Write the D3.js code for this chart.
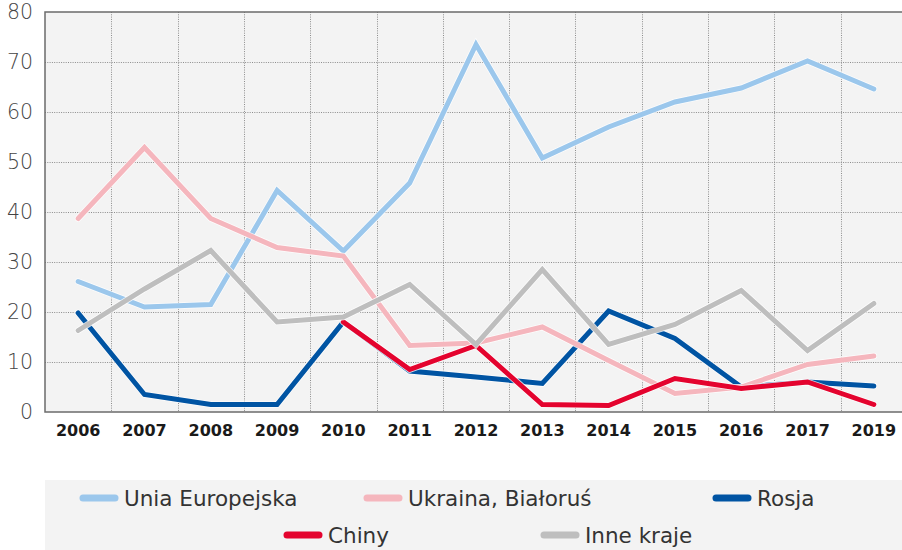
<!DOCTYPE html>
<html>
<head>
<meta charset="utf-8">
<script src="https://cdn.jsdelivr.net/npm/d3@7"></script>
<style>
  body { margin: 0; background: #fff; }
  svg { display: block; font-family: "DejaVu Sans", sans-serif; }
</style>
</head>
<body>
<div class="chart_container"></div>
<script>
var years = ["2006","2007","2008","2009","2010","2011","2012","2013","2014","2015","2016","2017","2019"];
var yTicks = [0, 10, 20, 30, 40, 50, 60, 70, 80];

var unia    = [26.1, 21.0, 21.5, 44.3, 32.2, 45.8, 73.5, 50.8, 57.0, 62.0, 64.8, 70.2, 64.6];
var ukraina = [38.7, 52.9, 38.7, 32.9, 31.2, 13.3, 13.8, 17.0, 10.3, 3.7, 5.0, 9.5, 11.2];
var rosja   = [19.8, 3.5, 1.5, 1.5, 18.0, 8.2, 7.0, 5.7, 20.2, 14.7, 5.0, 6.0, 5.2];
var chiny   = [null, null, null, null, 18.0, 8.5, 13.3, 1.5, 1.3, 6.7, 4.7, 6.0, 1.5];
var inne    = [16.3, 24.6, 32.3, 18.0, 19.0, 25.5, 13.5, 28.5, 13.5, 17.5, 24.3, 12.3, 21.7];

var seriesNames = ["Unia Europejska", "Ukraina, Białoruś", "Rosja", "Chiny", "Inne kraje"];
var seriesColors = ["#9bc7ec", "#f5b6bd", "#0054a3", "#e4032e", "#bebebe"];
var seriesValues = [unia, ukraina, rosja, chiny, inne];

var W = 902, H = 550;
var margin = {top: 12, right: -5, bottom: 138, left: 45};
var width = W - margin.left - margin.right,
    height = H - margin.top - margin.bottom;

var svg = d3.select(".chart_container").append("svg")
    .attr("width", W).attr("height", H);

var g = svg.append("g").attr("transform", "translate(" + margin.left + "," + margin.top + ")");

var x = d3.scaleBand().domain(years).range([0, width]);
var y = d3.scaleLinear().domain([0, 80]).range([height, 0]);

// plot background
g.append("rect").attr("width", width).attr("height", height).attr("fill", "#f3f3f3");

// dotted grid
g.selectAll(".hgrid").data(yTicks.slice(1, -1)).enter().append("line")
    .attr("x1", 0).attr("x2", width)
    .attr("y1", function(d){ return Math.round(y(d)) + 0.5; })
    .attr("y2", function(d){ return Math.round(y(d)) + 0.5; })
    .attr("stroke", "#8c8c8c").attr("stroke-dasharray", "1,1.3");
g.selectAll(".vgrid").data(years.slice(1)).enter().append("line")
    .attr("x1", function(d){ return Math.round(x(d)) + 0.5; })
    .attr("x2", function(d){ return Math.round(x(d)) + 0.5; })
    .attr("y1", 0).attr("y2", height)
    .attr("stroke", "#8c8c8c").attr("stroke-dasharray", "1,1.3");

// frame
g.append("rect").attr("width", width).attr("height", height)
    .attr("fill", "none").attr("stroke", "#6b6b6b").attr("stroke-width", 1.5);

// axes
var yAxis = g.append("g").call(d3.axisLeft(y).tickValues(yTicks).tickSize(0).tickPadding(12));
yAxis.select(".domain").remove();
yAxis.selectAll("text").attr("font-size", 20.5).attr("font-weight", 300)
    .attr("fill", "#444").attr("font-family", "DejaVu Sans");

var xAxis = g.append("g").attr("transform", "translate(0," + height + ")")
    .call(d3.axisBottom(x).tickSize(0).tickPadding(13));
xAxis.select(".domain").remove();
xAxis.selectAll("text").attr("font-size", 16).attr("font-weight", "bold")
    .attr("fill", "#1a1a1a").attr("font-family", "DejaVu Sans");

// lines (drawing order: EU, Rosja, Ukraina, Chiny, Inne)
var line = d3.line()
    .defined(function(d){ return d.v != null; })
    .x(function(d){ return x(d.year) + x.bandwidth() / 2; })
    .y(function(d){ return y(d.v); });

[0, 2, 1, 3, 4].forEach(function(i){
    var pts = years.map(function(yr, j){ return {year: yr, v: seriesValues[i][j]}; });
    g.append("path").datum(pts).attr("d", line)
        .attr("fill", "none").attr("stroke", "#ffffff").attr("stroke-width", 6.5)
        .attr("stroke-linecap", "round").attr("stroke-linejoin", "miter").attr("opacity", 0.8);
    g.append("path").datum(pts).attr("d", line)
        .attr("fill", "none").attr("stroke", seriesColors[i]).attr("stroke-width", 5)
        .attr("stroke-linecap", "round").attr("stroke-linejoin", "miter");
});

// legend
svg.append("rect").attr("x", 45).attr("y", 480).attr("width", W - 45).attr("height", 70).attr("fill", "#f3f3f3");
var legendPos = [[80, 498], [364, 498], [713, 498], [284, 535], [541, 535]];
seriesNames.forEach(function(name, i){
    var lg = svg.append("g").attr("transform", "translate(" + legendPos[i][0] + "," + legendPos[i][1] + ")");
    lg.append("line").attr("x1", 3).attr("x2", 35).attr("y1", 0).attr("y2", 0)
        .attr("stroke", seriesColors[i]).attr("stroke-width", 7).attr("stroke-linecap", "round");
    lg.append("text").attr("x", 44).attr("y", 0).attr("dy", "0.36em")
        .attr("font-size", 21.5).attr("fill", "#333").text(name);
});
</script>
</body>
</html>
